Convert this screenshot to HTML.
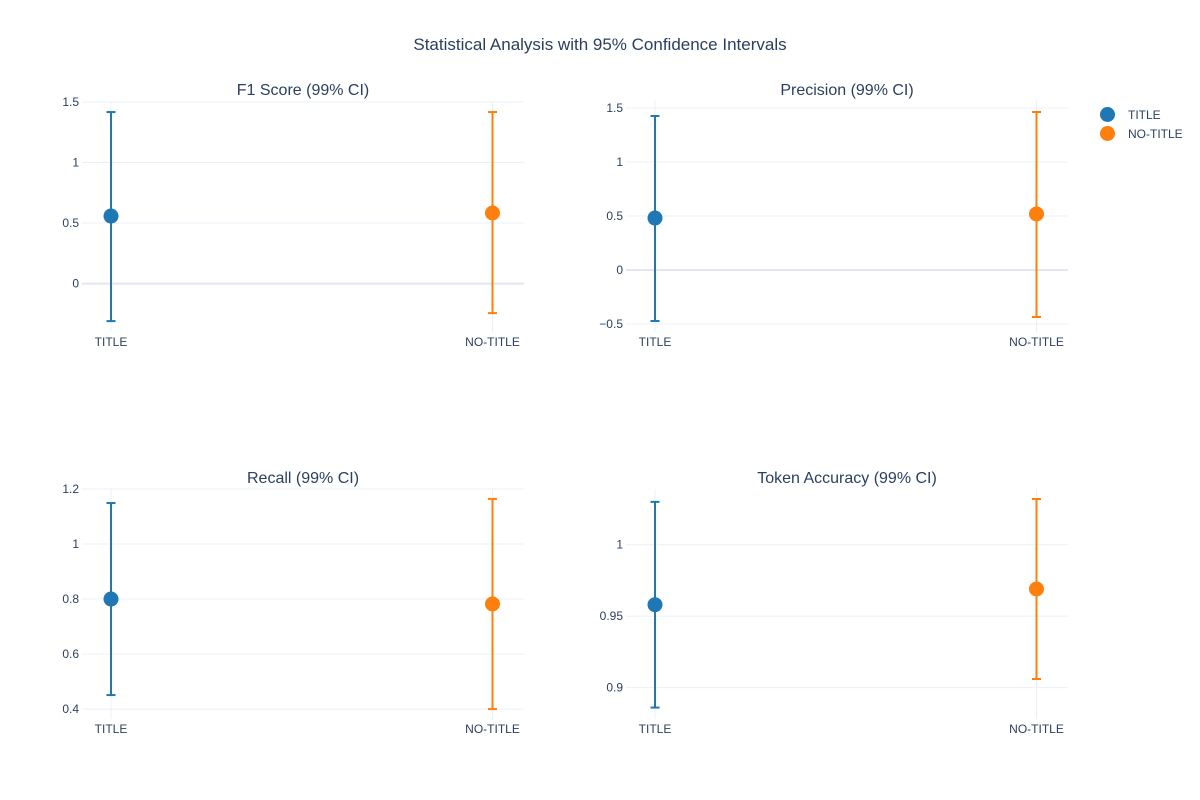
<!DOCTYPE html>
<html><head><meta charset="utf-8"><style>
body{margin:0;background:#fff;}
svg{display:block;font-family:"Liberation Sans",Arial,sans-serif;}
</style></head><body>
<svg id="c" width="1200" height="800">
<text x="600" y="50" text-anchor="middle" font-size="17" fill="#2a3f5f">Statistical Analysis with 95% Confidence Intervals</text>
<g>
<g><circle cx="1107.5" cy="114.5" r="7.5" fill="#1f77b4"/><text x="1128" y="119" font-size="12" fill="#2a3f5f">TITLE</text></g>
<g><circle cx="1107.5" cy="133.5" r="7.5" fill="#ff7f0e"/><text x="1128" y="138" font-size="12" fill="#2a3f5f">NO-TITLE</text></g>
</g>
</svg>
<script>
const categories=["TITLE","NO-TITLE"];
const colors=["#1f77b4","#ff7f0e"];
const panelTitles=["F1 Score (99% CI)","Precision (99% CI)","Recall (99% CI)","Token Accuracy (99% CI)"];
const f1Mean=[0.558,0.583], f1Low=[-0.31,-0.244], f1High=[1.417,1.417];
const precMean=[0.481,0.519], precLow=[-0.472,-0.435], precHigh=[1.426,1.463];
const recMean=[0.80,0.782], recLow=[0.451,0.40], recHigh=[1.149,1.164];
const accMean=[0.958,0.969], accLow=[0.886,0.906], accHigh=[1.030,1.032];
const f1Ticks=[0,0.5,1,1.5], precTicks=[-0.5,0,0.5,1,1.5], recTicks=[0.4,0.6,0.8,1,1.2], accTicks=[0.9,0.95,1];
const f1TickLabels=["0","0.5","1","1.5"], precTickLabels=["−0.5","0","0.5","1","1.5"], recTickLabels=["0.4","0.6","0.8","1","1.2"], accTickLabels=["0.9","0.95","1"];
const panels=[
 {x0:82,x1:524,y0:102,y1:332,ty:95,min:-0.40,max:1.50,mean:f1Mean,lo:f1Low,hi:f1High,ticks:f1Ticks,tl:f1TickLabels,name:"f1"},
 {x0:626,x1:1068,y0:100,y1:332,ty:95,min:-0.574,max:1.574,mean:precMean,lo:precLow,hi:precHigh,ticks:precTicks,tl:precTickLabels,name:"precision"},
 {x0:82,x1:524,y0:489,y1:719,ty:483,min:0.364,max:1.2,mean:recMean,lo:recLow,hi:recHigh,ticks:recTicks,tl:recTickLabels,name:"recall"},
 {x0:626,x1:1068,y0:489,y1:719,ty:483,min:0.878,max:1.039,mean:accMean,lo:accLow,hi:accHigh,ticks:accTicks,tl:accTickLabels,name:"token-accuracy"}
];
const svg=document.getElementById('c');
const NS="http://www.w3.org/2000/svg";
function mk(tag,attrs,parent){const e=document.createElementNS(NS,tag);for(const k in attrs)e.setAttribute(k,attrs[k]);parent.appendChild(e);return e;}
panels.forEach((p,pi)=>{
 const g=mk('g',{},svg);
 
 
 const y=v=>p.y1-(v-p.min)/(p.max-p.min)*(p.y1-p.y0);
 const cx=[p.x0+29,p.x1-31.5];
 const x=i=>cx[i];
 p.ticks.forEach((t,i)=>{
  const gy=y(t);
  const ln=mk('line',{x1:p.x0,x2:p.x1,y1:gy,y2:gy,stroke:t===0?'#e1e6ef':'#ebf0f8','stroke-width':t===0?2:1},g);
  
  
  const tx=mk('text',{x:p.x0-3,y:gy+4,'text-anchor':'end','font-size':12,fill:'#2a3f5f'},g);
  tx.textContent=p.tl[i];
  
  
 });
 categories.forEach((c,i)=>{
  mk('line',{x1:x(i),x2:x(i),y1:p.y0,y2:p.y1,stroke:'#ebf0f8','stroke-width':1},g);
  const tx=mk('text',{x:x(i),y:p.y1+14,'text-anchor':'middle','font-size':12,fill:'#2a3f5f'},g);
  tx.textContent=c;
  
  
 });
 const tt=mk('text',{x:(p.x0+p.x1)/2,y:p.ty,'text-anchor':'middle','font-size':16,fill:'#2a3f5f'},g);
 tt.textContent=panelTitles[pi];
 
 
 categories.forEach((c,i)=>{
  const eg=mk('g',{stroke:colors[i],'stroke-width':2},g);
  
  
  mk('line',{x1:x(i),x2:x(i),y1:y(p.lo[i]),y2:y(p.hi[i])},eg);
  mk('line',{x1:x(i)-4.5,x2:x(i)+4.5,y1:y(p.lo[i]),y2:y(p.lo[i])},eg);
  mk('line',{x1:x(i)-4.5,x2:x(i)+4.5,y1:y(p.hi[i]),y2:y(p.hi[i])},eg);
  const pt=mk('circle',{cx:x(i),cy:y(p.mean[i]),r:7.5,fill:colors[i]},g);
  
  
 });
});
</script>
</body></html>
